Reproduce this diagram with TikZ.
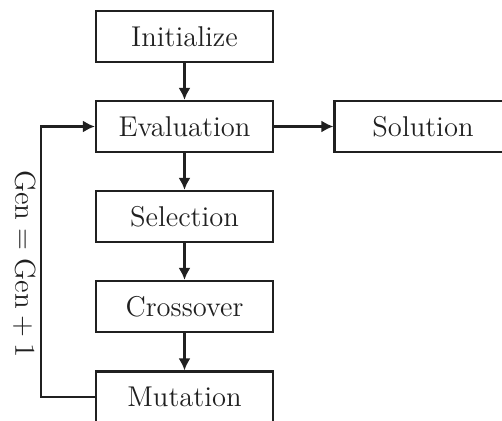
\documentclass[tikz,border=0pt]{standalone}
\usetikzlibrary{arrows.meta}
\definecolor{ink}{RGB}{32,32,32}
\begin{document}
\begin{tikzpicture}[x=0.5pt,y=-0.5pt,
  stepbox/.style={draw=ink,line width=1.1pt,minimum width=88.5pt,minimum height=25.5pt,
    inner sep=0pt,text=ink,font=\fontsize{14.3}{17}\selectfont},
  arr/.style={draw=ink,line width=1.1pt,-{Latex[length=6pt,width=6pt]}}]
  \clip (0,0) rectangle (502,421);
  \useasboundingbox (0,0) rectangle (502,421);

  % main column of steps
  \node[stepbox] (init) at (184.5,36.5)  {Initialize};
  \node[stepbox] (eval) at (184.5,126.5) {Evaluation};
  \node[stepbox] (sel)  at (184.5,216.5) {Selection};
  \node[stepbox] (cross) at (184.5,306.5) {Crossover};
  \node[stepbox] (mut)  at (184.5,397)   {Mutation};
  \node[stepbox] (sol)  at (423,126.5)   {Solution};

  % forward flow
  \draw[arr] (init) -- (eval);
  \draw[arr] (eval) -- (sel);
  \draw[arr] (sel) -- (cross);
  \draw[arr] (cross) -- (mut);
  \draw[arr] (eval) -- (sol);

  % loop back to evaluation
  \coordinate (loopx) at (41,0);
  \draw[arr] (mut.west) -- (mut.west -| loopx) |- (eval.west);
  \node[rotate=-90,text=ink,font=\fontsize{14.3}{17}\selectfont] (gen) at (24,264)
    {$\mathrm{Gen} = \mathrm{Gen} + 1$};
\end{tikzpicture}
\end{document}
